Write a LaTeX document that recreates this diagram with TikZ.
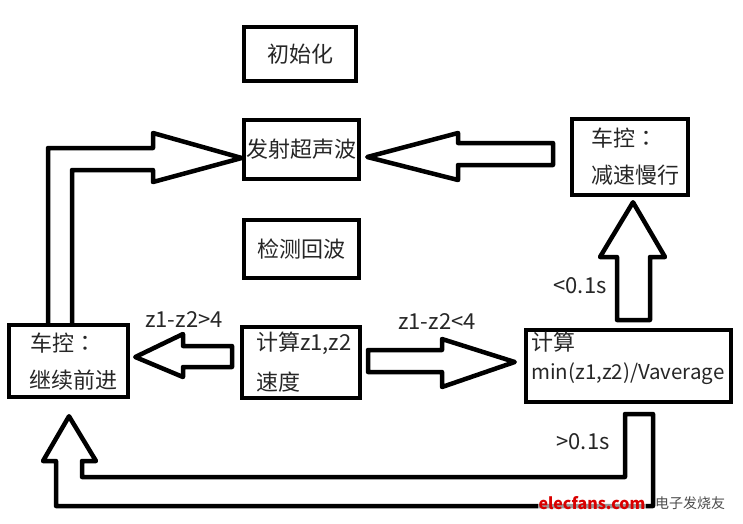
\documentclass[tikz,border=0pt]{standalone}
\usepackage{fontspec}
\setmainfont{Noto Sans CJK SC}
\newfontfamily\tcfont{Noto Sans CJK TC}
\usetikzlibrary{calc}
\newcommand{\fwcolon}{{\tcfont ：}}
\begin{document}
\begin{tikzpicture}[x=1pt,y=-1pt,
  box/.style={draw,line width=4.5pt,inner sep=0pt,text=black!85,font=\fontsize{22}{26}\selectfont},
  txt/.style={inner sep=0pt,anchor=west,text=black!85,font=\fontsize{22}{26}\selectfont},
  lbl/.style={inner sep=0pt,text=black!85,font=\fontsize{22}{26}\selectfont},
  barrow/.style={draw,line width=4.5pt,line join=round}]
\useasboundingbox (0,0) rectangle (743,523);
% boxes
\node[box,minimum width=112pt,minimum height=54pt] (init) at (300,54) {初始化};
\node[box,minimum width=115pt,minimum height=59pt] (send) at (301.5,149.5) {发射超声波};
\node[box,minimum width=115pt,minimum height=58pt] (detect) at (301.5,249) {检测回波};
\node[box,minimum width=119pt,minimum height=72pt] (go) at (68.5,361) {};
\node[txt] (go1) at (30,343) {车控\fwcolon};
\node[txt] (go2) at (29,380) {继续前进};
\node[box,minimum width=118pt,minimum height=71pt] (calc) at (301,362.5) {};
\node[txt] (calc1) at (256,343) {计算z1,z2};
\node[txt] (calc2) at (256,382) {速度};
\node[box,minimum width=205pt,minimum height=72pt] (tm) at (628.5,366) {};
\node[txt] (tm1) at (531,342) {计算};
\node[txt,font=\fontsize{20.5}{24}\selectfont] (tm2) at (531,374) {min(z1,z2)/Vaverage};
\node[box,minimum width=116pt,minimum height=76pt] (slow) at (630,157) {};
\node[txt] (slow1) at (591,138) {车控\fwcolon};
\node[txt] (slow2) at (591,175) {减速慢行};
% block arrows
\draw[barrow] (go.north -| 48,0) -- (48,148) -- (153,148) -- (153,133)
  -- ($(send.west)+(0,8.5)$) -- (153,182) -- (153,170) -- (72,170) -- (go.north -| 72,0);
\draw[barrow] (553,143) -- (458,143) -- (458,133) -- ($(send.east)+(6,7.5)$)
  -- (458,180) -- (458,165) -- (553,165) -- cycle;
\draw[barrow] (232,346) -- (183,346) -- (183,334) -- ($(go.east)+(5,-4)$)
  -- (183,377) -- (183,367) -- (232,367) -- cycle;
\draw[barrow] (368,350) -- (442,350) -- (442,339) -- ($(tm.west)+(-9,-4)$)
  -- (442,387) -- (442,372) -- (368,372) -- cycle;
\draw[barrow] (617,320) -- (617,257) -- (600,257) -- ($(slow.south)+(3,5)$)
  -- (665,257) -- (650,257) -- (650,320) -- cycle;
\draw[barrow] (625,414) -- (653,414) -- (653,506) -- (56,506) -- (56,461) -- (43,461)
  -- ($(go.south)+(0.5,17)$) -- (96,461) -- (82,461) -- (82,477) -- (625,477) -- cycle;
% labels
\node[lbl] (l1) at (184,320) {z1-z2>4};
\node[lbl] (l2) at (437,322) {z1-z2<4};
\node[lbl] (l3) at (580,286) {<0.1s};
\node[lbl] (l4) at (583,442) {>0.1s};
% watermark
\node[inner sep=1pt,fill=white,fill opacity=0.6,text opacity=1,text=red!85!black,
  font=\bfseries\fontsize{16}{18}\selectfont] (wm) at (592,503) {elecfans.com};
\node[inner sep=0pt,text=black!70,font=\fontsize{14}{16}\selectfont] (wm2) at (690,503) {电子发烧友};
\end{tikzpicture}
\end{document}
